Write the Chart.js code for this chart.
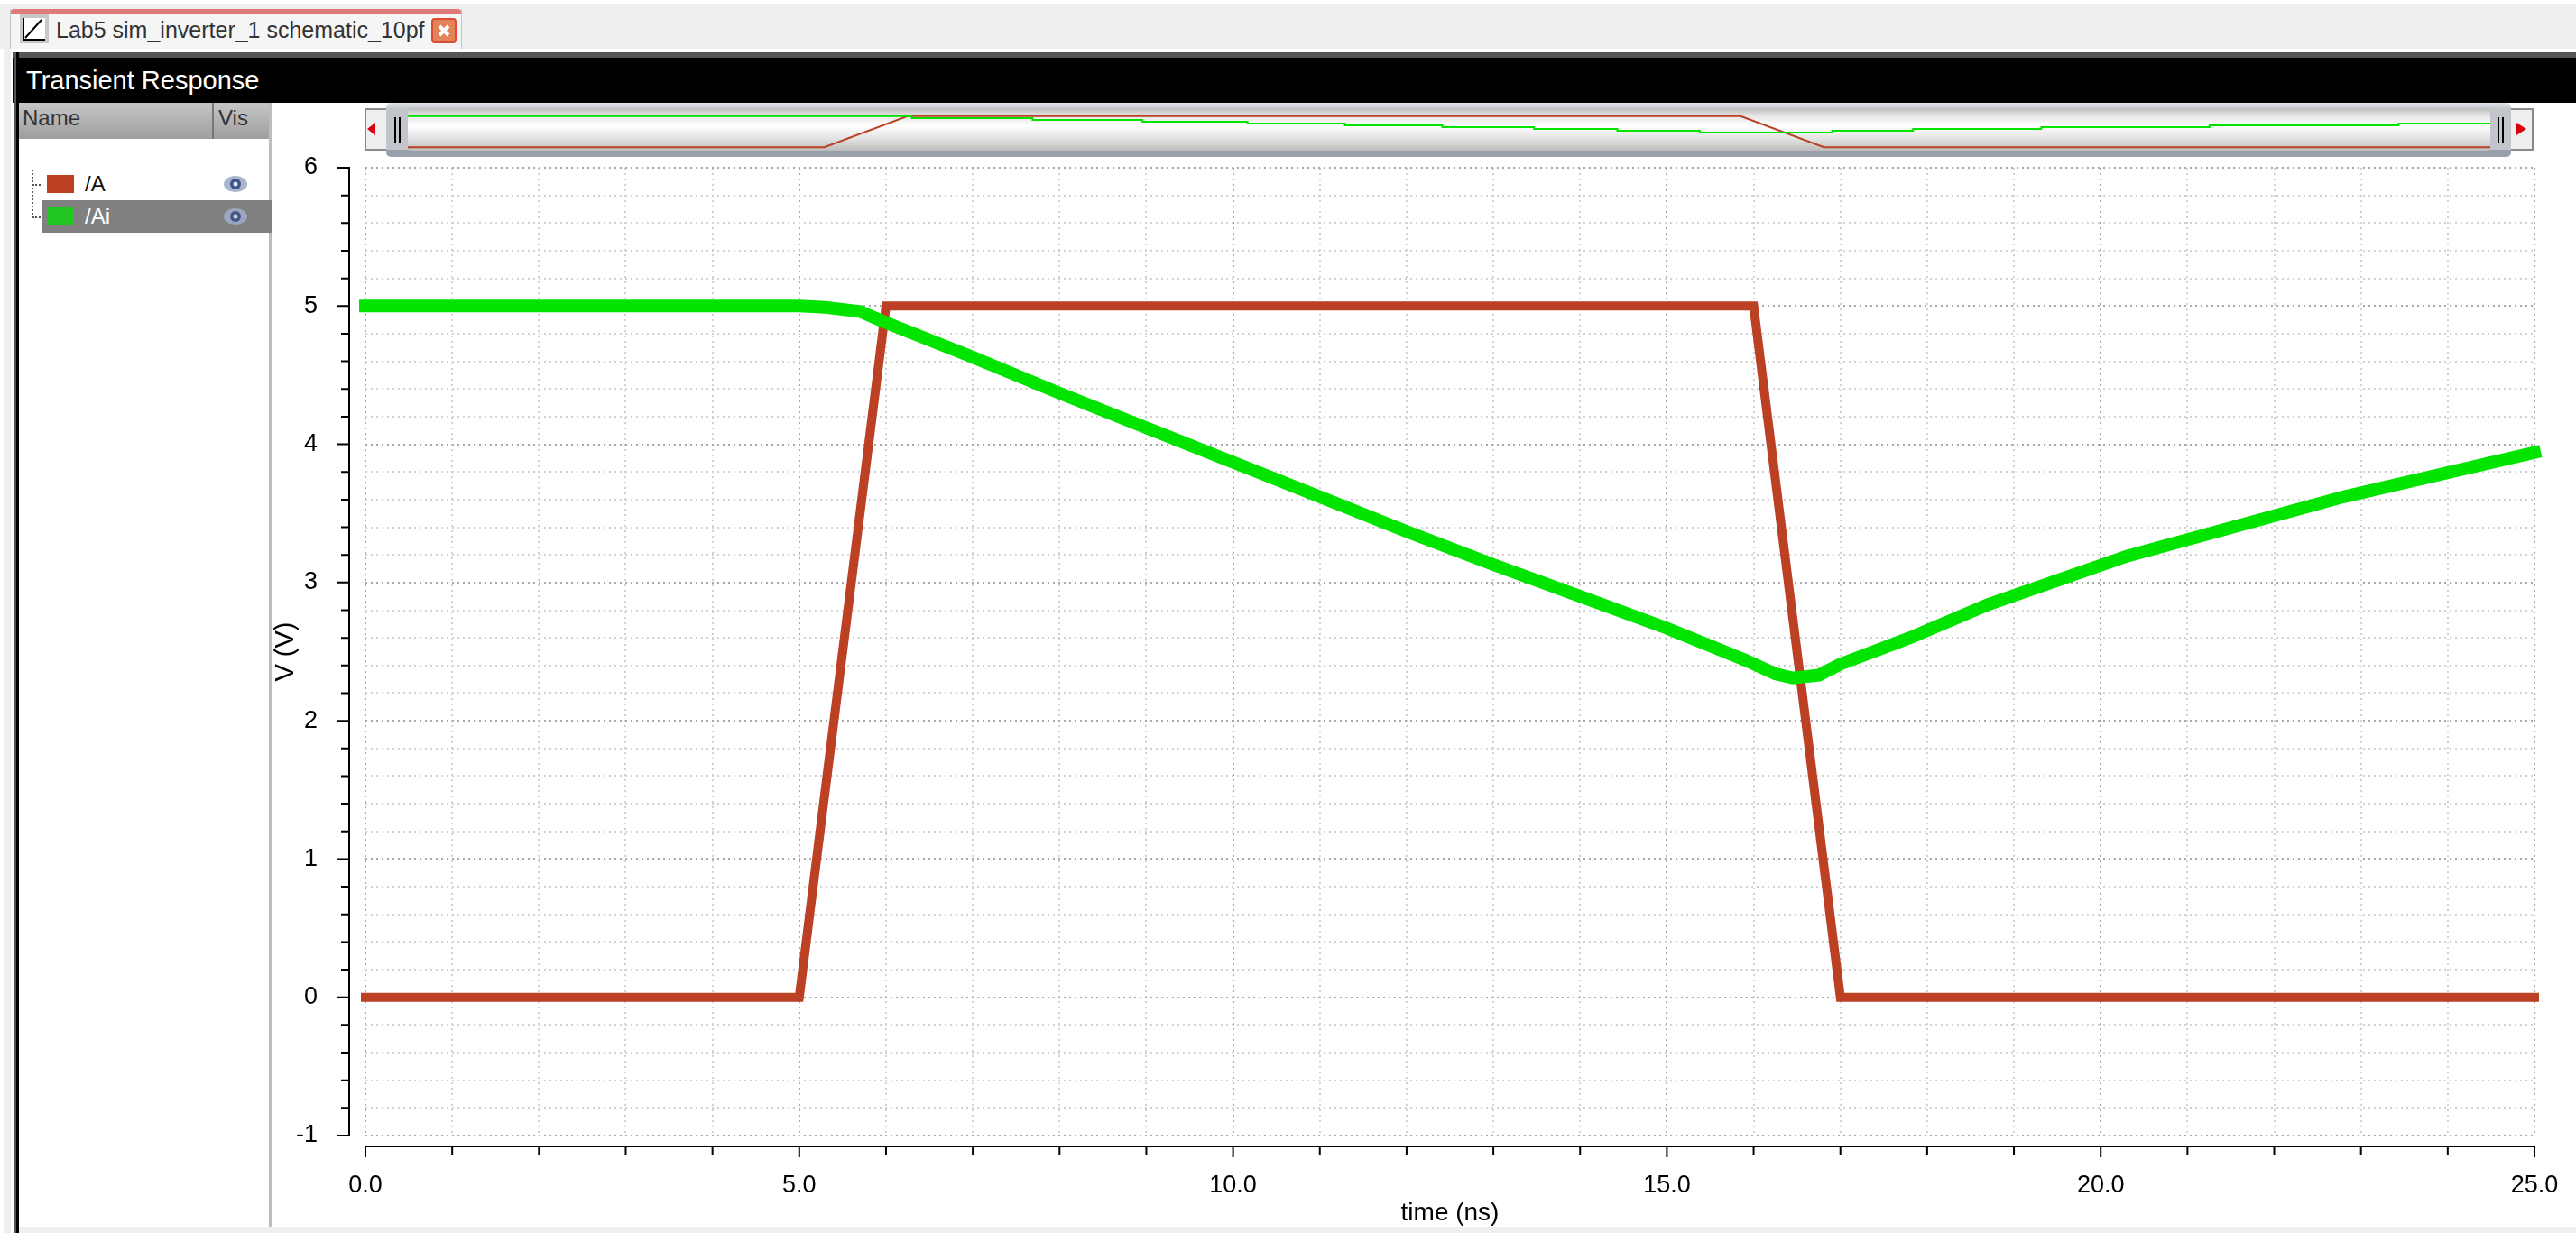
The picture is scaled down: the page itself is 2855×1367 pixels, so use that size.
<!DOCTYPE html>
<html>
<head>
<meta charset="utf-8">
<title>Transient Response</title>
<script src="https://cdn.jsdelivr.net/npm/chart.js@4"></script>
<style>
  html, body { margin: 0; padding: 0; background: #fff; }
  body { position: relative; width: 2855px; height: 1367px; overflow: hidden; font-family: "Liberation Sans", sans-serif; color: #111; }
  .box { position: absolute; }
  .txt { position: absolute; white-space: nowrap; line-height: 1; }
  canvas { position: absolute; }
  .thumb-inner { background: linear-gradient(#bdbdbd 0%, #e6e6e6 18%, #fff 42%, #e2e2e2 72%, #bcbcbc 100%); }
  .arrow-box { background: #efefef; border: 2px solid #8a8a8a; box-sizing: border-box; }
  .grip { background: #000; }
</style>
</head>
<body>
  <!-- window chrome -->
  <div class="box" style="left:0;top:4px;width:2855px;height:50px;background:#efefef"></div>
  <div class="box" style="left:4px;top:54px;width:8px;height:1313px;background:#efefef"></div>
  <div class="box" style="left:11px;top:10px;width:501px;height:44px;background:#f5f5f5;border-left:1px solid #c4c4c4;border-right:1px solid #c4c4c4;box-sizing:border-box"></div>
  <div class="box" style="left:12px;top:10px;width:499px;height:6px;background:#e07a7a;border-radius:3px 3px 0 0"></div>
  <svg class="box" style="left:22px;top:16px" width="32" height="32">
    <rect width="32" height="32" fill="#c8c8c8"/><rect x="4" y="4" width="24" height="24" fill="#fff"/>
    <path d="M4 4V28H28" stroke="#000" stroke-width="2" fill="none"/><path d="M6 26L24 6" stroke="#000" stroke-width="2"/>
  </svg>
  <div class="txt" style="left:62px;top:21px;font-size:25px;color:#333">Lab5 sim_inverter_1 schematic_10pf</div>
  <svg class="box" style="left:478px;top:20px" width="28" height="28">
    <rect x="1" y="1" width="26" height="26" rx="3" fill="#e2835a" stroke="#dc4a34" stroke-width="2"/>
    <path d="M9 9L19 19M19 9L9 19" stroke="#fff" stroke-width="4"/>
  </svg>

  <div class="box" style="left:14px;top:58px;width:2841px;height:6px;background:#555"></div>
  <div class="box" style="left:14px;top:64px;width:2841px;height:50px;background:#000"></div>
  <div class="box" style="left:15px;top:58px;width:3px;height:1309px;background:#555"></div>
  <div class="box" style="left:18px;top:58px;width:3px;height:1309px;background:#000"></div>
  <div class="txt" style="left:29px;top:75px;font-size:29px;color:#fff">Transient Response</div>
  <div class="box" style="left:21px;top:1360px;width:2834px;height:7px;background:#efefef"></div>

  <!-- signal list -->
  <div class="box" style="left:21px;top:114px;width:279px;height:40px;background:linear-gradient(#c6c6c6,#9e9e9e)"></div>
  <div class="box" style="left:235px;top:114px;width:2px;height:40px;background:#777"></div>
  <div class="txt" style="left:25px;top:119px;font-size:24px;color:#333">Name</div>
  <div class="txt" style="left:242px;top:119px;font-size:24px;color:#333">Vis</div>
  <div class="box" style="left:298px;top:114px;width:3px;height:1246px;background:#bdbdbd"></div>
  <div class="box" style="left:35px;top:188px;width:0;height:54px;border-left:2px dotted #555"></div>
  <div class="box" style="left:36px;top:204px;width:9px;height:0;border-top:2px dotted #555"></div>
  <div class="box" style="left:36px;top:240px;width:9px;height:0;border-top:2px dotted #555"></div>
  <div class="box" style="left:46px;top:222px;width:256px;height:36px;background:#808080"></div>
  <div class="box" style="left:52px;top:194px;width:30px;height:20px;background:#bc4024"></div>
  <div class="box" style="left:52px;top:230px;width:30px;height:20px;background:#22c822"></div>
  <div class="txt" style="left:94px;top:192px;font-size:24px;color:#111">/A</div>
  <div class="txt" style="left:94px;top:228px;font-size:24px;color:#fff">/Ai</div>
  <svg class="box" style="left:247px;top:193px" width="28" height="22">
    <ellipse cx="14" cy="11" rx="13" ry="9" fill="#a9b4cf"/><circle cx="14" cy="11" r="6" fill="#3f5585"/><circle cx="14" cy="11" r="2.5" fill="#dfe5f2"/>
  </svg>
  <svg class="box" style="left:247px;top:229px" width="28" height="22">
    <ellipse cx="14" cy="11" rx="13" ry="9" fill="#9aa6c2"/><circle cx="14" cy="11" r="6" fill="#46587f"/><circle cx="14" cy="11" r="2.5" fill="#c8d0e2"/>
  </svg>

  <!-- overview scroller -->
  <div class="box arrow-box" style="left:404px;top:120px;width:28px;height:47px"></div>
  <div class="box arrow-box" style="left:2780px;top:120px;width:28px;height:47px"></div>
  <svg class="box" style="left:406px;top:134px" width="12" height="18"><path d="M1 9L10 2V16Z" fill="#d80010"/></svg>
  <svg class="box" style="left:2788px;top:134px" width="14" height="18"><path d="M12 9L1 2V16Z" fill="#d80010"/></svg>
  <div class="box" style="left:428px;top:114px;width:2355px;height:60px;border-radius:5px;background:linear-gradient(#dfe3ea 0%,#c2c5ca 12%,#c2c5ca 86%,#9aa0ab 87%,#9aa0ab 100%)"></div>
  <div class="box thumb-inner" style="left:452px;top:120px;width:2308px;height:47px;border-radius:4px"></div>
  <div class="box grip" style="left:437px;top:130px;width:2px;height:28px"></div>
  <div class="box grip" style="left:442px;top:130px;width:2px;height:28px"></div>
  <div class="box grip" style="left:2768px;top:130px;width:2px;height:28px"></div>
  <div class="box grip" style="left:2773px;top:130px;width:2px;height:28px"></div>
  <canvas id="overview" width="2308" height="48" style="left:452px;top:122px;width:2308px;height:48px"></canvas>

  <!-- main plot -->
  <canvas id="plot" width="2855" height="1367" style="left:0;top:0;width:2855px;height:1367px"></canvas>

<script>
const COLOR_A = '#bc4024';
const COLOR_AI = '#00e400';

// /A input pulse
const timeA = [0, 5, 6, 16, 17, 25];
const voltA = [0, 0, 5, 5, 0, 0];

// /Ai inverter output
const timeAi = [0, 5, 5.3, 5.7, 6, 7, 8, 9, 10, 11, 12, 13, 14, 15, 15.9, 16.25, 16.45, 16.75, 17, 17.8, 18.7, 20.3, 22.8, 25];
const voltAi = [5, 5, 4.99, 4.96, 4.88, 4.63, 4.37, 4.12, 3.87, 3.62, 3.37, 3.13, 2.9, 2.67, 2.44, 2.34, 2.31, 2.33, 2.41, 2.6, 2.84, 3.19, 3.62, 3.94];

// the scroller shows /Ai at low resolution, so it gets its own stepped list
const overviewTime = [0, 6.05, 7.5, 8.82, 10.08, 11.25, 12.42, 13.52, 14.52, 15.51, 17.1, 18.07, 19.61, 21.63, 23.9, 25];
const overviewVolt = [5, 4.7, 4.41, 4.12, 3.82, 3.53, 3.24, 2.94, 2.65, 2.35, 2.65, 2.94, 3.24, 3.53, 3.82, 3.82];

const xRange = [0, 25];
const yRange = [-1, 6];
const xTitle = 'time (ns)';
const yTitle = 'V (V)';

const points = (xs, ys) => xs.map((x, i) => ({ x, y: ys[i] }));
const isWhole = (v, step) => Math.abs(v / step - Math.round(v / step)) < 1e-6;

// Axis lines sit apart from the plot area, so they are drawn here off the scales
const offsetAxes = {
  id: 'offsetAxes',
  afterDraw(chart) {
    const { ctx, scales, chartArea } = chart;
    const axisY = chartArea.bottom + 12;
    const axisX = chartArea.left - 18;
    ctx.save();
    ctx.strokeStyle = '#000';
    ctx.lineWidth = 2;
    ctx.beginPath();
    ctx.moveTo(chartArea.left - 1, axisY);
    ctx.lineTo(chartArea.right + 1, axisY);
    ctx.moveTo(axisX, chartArea.top - 1);
    ctx.lineTo(axisX, chartArea.bottom + 1);
    scales.x.ticks.forEach((t) => {
      const px = scales.x.getPixelForValue(t.value);
      ctx.moveTo(px, axisY);
      ctx.lineTo(px, axisY + (isWhole(t.value, 5) ? 12 : 9));
    });
    scales.y.ticks.forEach((t) => {
      const py = scales.y.getPixelForValue(t.value);
      ctx.moveTo(axisX, py);
      ctx.lineTo(axisX - (isWhole(t.value, 1) ? 13 : 9), py);
    });
    ctx.stroke();
    ctx.restore();
  },
};

new Chart(document.getElementById('plot'), {
  type: 'line',
  plugins: [offsetAxes],
  data: {
    datasets: [
      { label: '/A', data: points(timeA, voltA), borderColor: COLOR_A, backgroundColor: COLOR_A, borderWidth: 10, order: 1 },
      { label: '/Ai', data: points(timeAi, voltAi), borderColor: COLOR_AI, backgroundColor: COLOR_AI, borderWidth: 14, order: 0 },
    ],
  },
  options: {
    responsive: false,
    animation: false,
    layout: { padding: { top: 186, right: 46 } },
    elements: {
      point: { radius: 0 },
      line: { tension: 0, borderCapStyle: 'square', borderJoinStyle: 'miter' },
    },
    datasets: { line: { clip: false } },
    plugins: { legend: { display: false }, tooltip: { enabled: false }, title: { display: false } },
    scales: {
      x: {
        type: 'linear',
        min: xRange[0],
        max: xRange[1],
        afterFit: (s) => { s.height = 108; s.paddingLeft = 0; s.paddingRight = 0; },
        border: { display: false, dash: [2, 4] },
        title: {
          display: true,
          text: xTitle,
          color: '#000',
          font: { family: 'Liberation Sans', size: 28 },
          padding: { top: 0, bottom: 5 },
        },
        grid: {
          lineWidth: 2,
          drawTicks: false,
          color: (c) => (isWhole(c.tick.value, 5) ? '#a8a8a8' : '#d2d2d2'),
        },
        ticks: {
          stepSize: 1,
          autoSkip: false,
          maxRotation: 0,
          padding: 39,
          color: '#000',
          font: { family: 'Liberation Sans', size: 27 },
          callback: (v) => (isWhole(v, 5) ? v.toFixed(1) : ''),
        },
      },
      y: {
        min: yRange[0],
        max: yRange[1],
        afterFit: (s) => { s.width = 405; s.paddingTop = 0; s.paddingBottom = 0; },
        border: { display: false, dash: [2, 4] },
        title: {
          display: true,
          text: yTitle,
          color: '#000',
          font: { family: 'Liberation Sans', size: 29 },
          padding: { top: 300, bottom: 0 },
        },
        grid: {
          lineWidth: 2,
          drawTicks: false,
          color: (c) => (isWhole(c.tick.value, 1) ? '#a8a8a8' : '#d2d2d2'),
        },
        ticks: {
          stepSize: 0.2,
          autoSkip: false,
          padding: 53,
          color: '#000',
          font: { family: 'Liberation Sans', size: 27 },
          callback: (v) => (isWhole(v, 1) ? String(Math.round(v)) : ''),
        },
      },
    },
  },
});

new Chart(document.getElementById('overview'), {
  type: 'line',
  data: {
    datasets: [
      { data: points(timeA, voltA), borderColor: COLOR_A, borderWidth: 2, order: 1 },
      { data: points(overviewTime, overviewVolt), borderColor: COLOR_AI, borderWidth: 2, stepped: 'before', order: 0 },
    ],
  },
  options: {
    responsive: false,
    animation: false,
    elements: { point: { radius: 0 }, line: { tension: 0 } },
    plugins: { legend: { display: false }, tooltip: { enabled: false } },
    scales: {
      x: { type: 'linear', display: false, min: xRange[0], max: xRange[1] },
      y: { display: false, min: yRange[0], max: yRange[1] },
    },
  },
});
</script>
</body>
</html>
